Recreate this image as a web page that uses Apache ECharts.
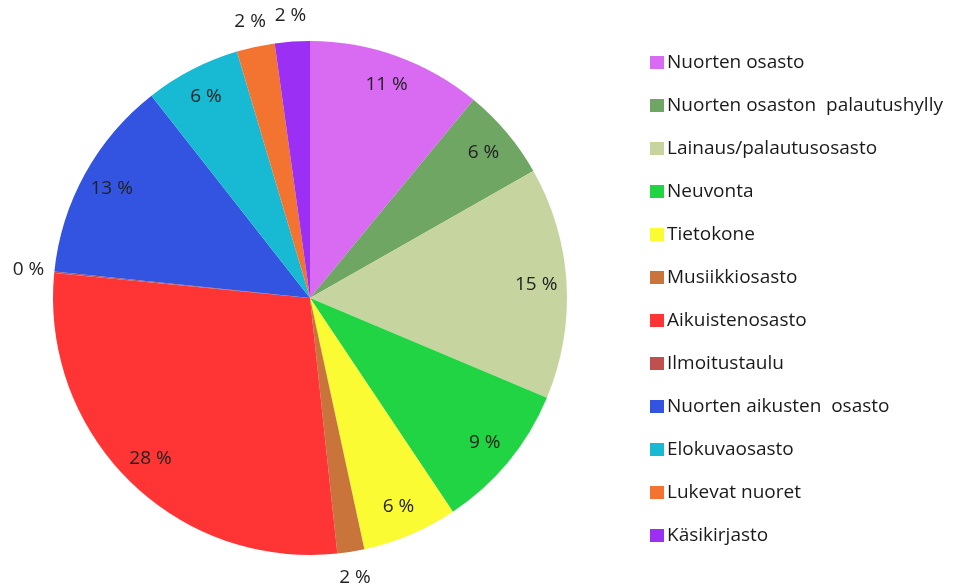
<!DOCTYPE html>
<html>
<head>
<meta charset="utf-8">
<script src="https://cdn.jsdelivr.net/npm/echarts@6/dist/echarts.min.js"></script>
<style>
html,body{margin:0;padding:0;background:#fff;}
#chart{width:962px;height:586px;}
</style>
</head>
<body>
<div id="chart"></div>
<script>
const categories = [
  'Nuorten osasto',
  'Nuorten osaston  palautushylly',
  'Lainaus/palautusosasto',
  'Neuvonta',
  'Tietokone',
  'Musiikkiosasto',
  'Aikuistenosasto',
  'Ilmoitustaulu',
  'Nuorten aikusten  osasto',
  'Elokuvaosasto',
  'Lukevat nuoret',
  'Käsikirjasto'
];
const values = [11.0, 5.8, 14.6, 9.3, 6.0, 1.7, 28.3, 0.1, 12.8, 6.0, 2.4, 2.2];
const colors = ['#d96af2', '#70a663', '#c6d59f', '#20d443', '#fbfb33', '#c8743a',
                '#ff3535', '#c0504d', '#3354e0', '#17b9d3', '#f37330', '#9b2ff3'];

const data = categories.map((n, i) => ({name: n, value: values[i], itemStyle: {color: colors[i]}}));
const cx = 310, cy = 298, R = 257;
const fontFam = '"Open Sans", sans-serif';
const lbl = p => Math.round(p.percent) + ' %';

const chart = echarts.init(document.getElementById('chart'), null, {renderer: 'canvas'});
chart.setOption({
  animation: false,
  backgroundColor: '#ffffff',
  legend: {
    orient: 'vertical',
    left: 645,
    top: 48,
    itemWidth: 14,
    itemHeight: 13,
    itemGap: 24,
    icon: 'rect',
    data: categories,
    textStyle: {fontFamily: fontFam, fontSize: 19, color: '#1a1a1a', padding: [0, 0, 0, -2]}
  },
  series: [
    {
      type: 'pie',
      center: [cx, cy],
      radius: [0, R],
      startAngle: 90,
      clockwise: true,
      avoidLabelOverlap: false,
      silent: true,
      label: {show: false},
      labelLine: {show: false},
      data: data
    },
    {
      type: 'pie',
      center: [cx, cy],
      radius: [R * 0.74, R],
      startAngle: 90,
      clockwise: true,
      silent: true,
      avoidLabelOverlap: false,
      labelLine: {show: false},
      data: categories.map((n, i) => ({
        name: n, value: values[i],
        itemStyle: {color: 'rgba(0,0,0,0)'},
        label: {show: values[i] >= 5}
      })),
      label: {
        position: 'inside',
        formatter: lbl,
        fontFamily: fontFam,
        fontSize: 19,
        color: '#222'
      }
    },
    {
      type: 'pie',
      center: [cx, cy],
      radius: [R + 8, R + 38],
      startAngle: 90,
      clockwise: true,
      silent: true,
      avoidLabelOverlap: false,
      labelLine: {show: false},
      data: categories.map((n, i) => ({
        name: n, value: values[i],
        itemStyle: {color: 'rgba(0,0,0,0)'},
        label: {show: values[i] < 5}
      })),
      label: {
        position: 'inside',
        formatter: lbl,
        fontFamily: fontFam,
        fontSize: 19,
        color: '#222'
      }
    }
  ]
});
</script>
</body>
</html>
